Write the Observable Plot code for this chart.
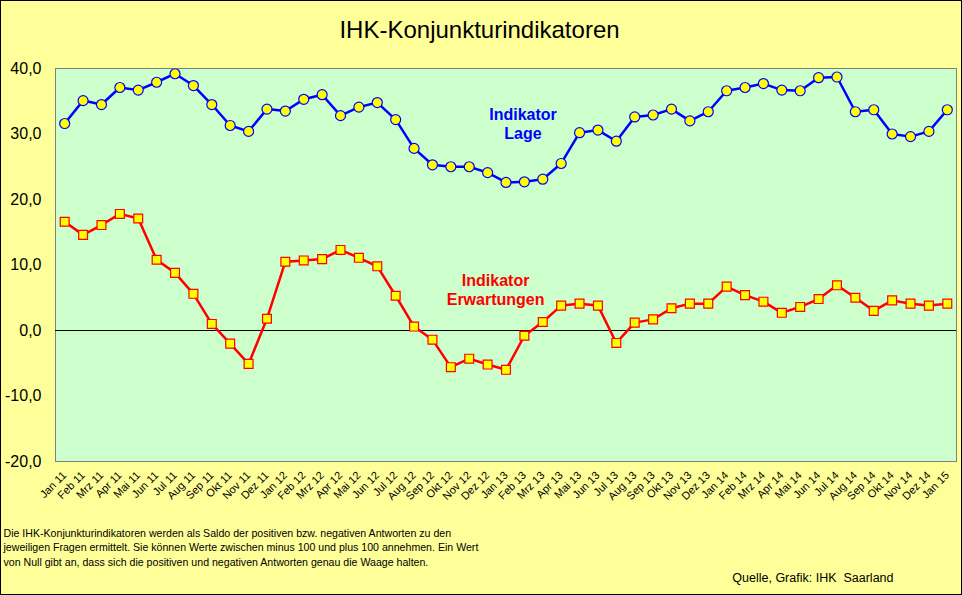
<!DOCTYPE html>
<html><head><meta charset="utf-8">
<script src="https://cdn.jsdelivr.net/npm/d3@7"></script>
<script src="https://cdn.jsdelivr.net/npm/@observablehq/plot@0.6"></script>
<style>body{margin:0;background:#FFFF99;} svg{display:block;}</style>
</head><body><div id="chart"></div>
<script>
const monthLabels = [
  "Jan 11","Feb 11","Mrz 11","Apr 11","Mai 11","Jun 11","Jul 11","Aug 11","Sep 11","Okt 11","Nov 11","Dez 11",
  "Jan 12","Feb 12","Mrz 12","Apr 12","Mai 12","Jun 12","Jul 12","Aug 12","Sep 12","Okt 12","Nov 12","Dez 12",
  "Jan 13","Feb 13","Mrz 13","Apr 13","Mai 13","Jun 13","Jul 13","Aug 13","Sep 13","Okt 13","Nov 13","Dez 13",
  "Jan 14","Feb 14","Mrz 14","Apr 14","Mai 14","Jun 14","Jul 14","Aug 14","Sep 14","Okt 14","Nov 14","Dez 14",
  "Jan 15"
];
const lage = [
  31.6, 35.1, 34.5, 37.1, 36.7, 37.9, 39.2, 37.4, 34.5, 31.3, 30.4, 33.8,
  33.5, 35.3, 36.0, 32.8, 34.1, 34.8, 32.2, 27.8, 25.3, 25.0, 25.0, 24.1,
  22.6, 22.7, 23.1, 25.5, 30.2, 30.6, 28.9, 32.6, 32.9, 33.8, 32.0, 33.4,
  36.6, 37.1, 37.7, 36.7, 36.6, 38.6, 38.7, 33.4, 33.7, 30.0, 29.6, 30.4,
  33.7
];
const erwartungen = [
  16.6, 14.6, 16.1, 17.8, 17.1, 10.8, 8.8, 5.6, 1.0, -2.0, -5.1, 1.8,
  10.5, 10.7, 10.9, 12.3, 11.1, 9.8, 5.3, 0.6, -1.4, -5.6, -4.3, -5.2,
  -6.0, -0.8, 1.3, 3.8, 4.1, 3.8, -1.9, 1.2, 1.7, 3.4, 4.1, 4.1,
  6.7, 5.4, 4.4, 2.7, 3.6, 4.8, 6.9, 5.0, 3.0, 4.6, 4.1, 3.8,
  4.1
];
const yTicks = [-20, -10, 0, 10, 20, 30, 40];
const title = "IHK-Konjunkturindikatoren";
const lageLabel = [{month: "Jan 13", value: 31.6, label: "Indikator\nLage"}];
const erwLabel = [{month: "Dez 12", value: 6.3, label: "Indikator\nErwartungen"}];
const footnote = "Die IHK-Konjunkturindikatoren werden als Saldo der positiven bzw. negativen Antworten zu den\njeweiligen Fragen ermittelt. Sie können Werte zwischen minus 100 und plus 100 annehmen. Ein Wert\nvon Null gibt an, dass sich die positiven und negativen Antworten genau die Waage halten.";
const source = "Quelle, Grafik: IHK  Saarland";

const de = d3.formatLocale({decimal: ",", thousands: ".", grouping: [3], currency: ["", " €"], minus: "-"});
const fmt = de.format(".1f");

const lageData = monthLabels.map((m, i) => ({month: m, value: lage[i]}));
const erwData = monthLabels.map((m, i) => ({month: m, value: erwartungen[i]}));

const chart = Plot.plot({
  width: 962, height: 595,
  marginLeft: 55, marginTop: 68, marginRight: 6, marginBottom: 134,
  style: {background: "#FFFF99", fontFamily: "'Liberation Sans', Arial, sans-serif", color: "black"},
  x: {type: "point", domain: monthLabels, padding: 0.5, round: false},
  y: {domain: [-20, 40]},
  marks: [
    Plot.frame({fill: "#CCFFCC", stroke: "#808080"}),
    Plot.ruleY([0], {stroke: "black", strokeWidth: 1}),
    Plot.axisY({ticks: yTicks, tickFormat: fmt, tickSize: 0, tickPadding: 14, fontSize: 16, line: true, stroke: "black", label: null}),
    Plot.axisX({tickRotate: -45, tickSize: 0, tickPadding: 12, fontSize: 11, label: null}),
    Plot.line(lageData, {x: "month", y: "value", stroke: "#0000FF", strokeWidth: 2.5}),
    Plot.dot(lageData, {x: "month", y: "value", r: 5, fill: "#FFFF00", stroke: "#0000FF", strokeWidth: 1.2}),
    Plot.line(erwData, {x: "month", y: "value", stroke: "#FF0000", strokeWidth: 2.5}),
    Plot.dot(erwData, {x: "month", y: "value", symbol: "square", r: 5, fill: "#FFFF00", stroke: "#FF0000", strokeWidth: 1.2}),
    Plot.text(lageLabel, {x: "month", y: "value", text: "label", dx: 17, fill: "#0000FF", fontWeight: "bold", fontSize: 16, lineHeight: 1.19}),
    Plot.text(erwLabel, {x: "month", y: "value", text: "label", dx: 8, fill: "#FF0000", fontWeight: "bold", fontSize: 16, lineHeight: 1.19}),
    Plot.text([title], {text: d => d, frameAnchor: "top", lineAnchor: "middle", dx: -26.5, dy: -38.3, fontSize: 24, fill: "black"}),
    Plot.text([footnote], {text: d => d, frameAnchor: "bottom-left", lineAnchor: "middle", textAnchor: "start", dx: -52, dy: 85, fontSize: 10.6, lineHeight: 1.37, fill: "black"}),
    Plot.text([source], {text: d => d, frameAnchor: "bottom-right", lineAnchor: "middle", textAnchor: "end", dx: -63, dy: 116, fontSize: 12.5, fill: "black"})
  ]
});
d3.select(chart).append("rect")
  .attr("x", 0.5).attr("y", 0.5).attr("width", 961).attr("height", 594)
  .attr("fill", "none").attr("stroke", "black");
document.getElementById("chart").appendChild(chart);
</script>
</body></html>
